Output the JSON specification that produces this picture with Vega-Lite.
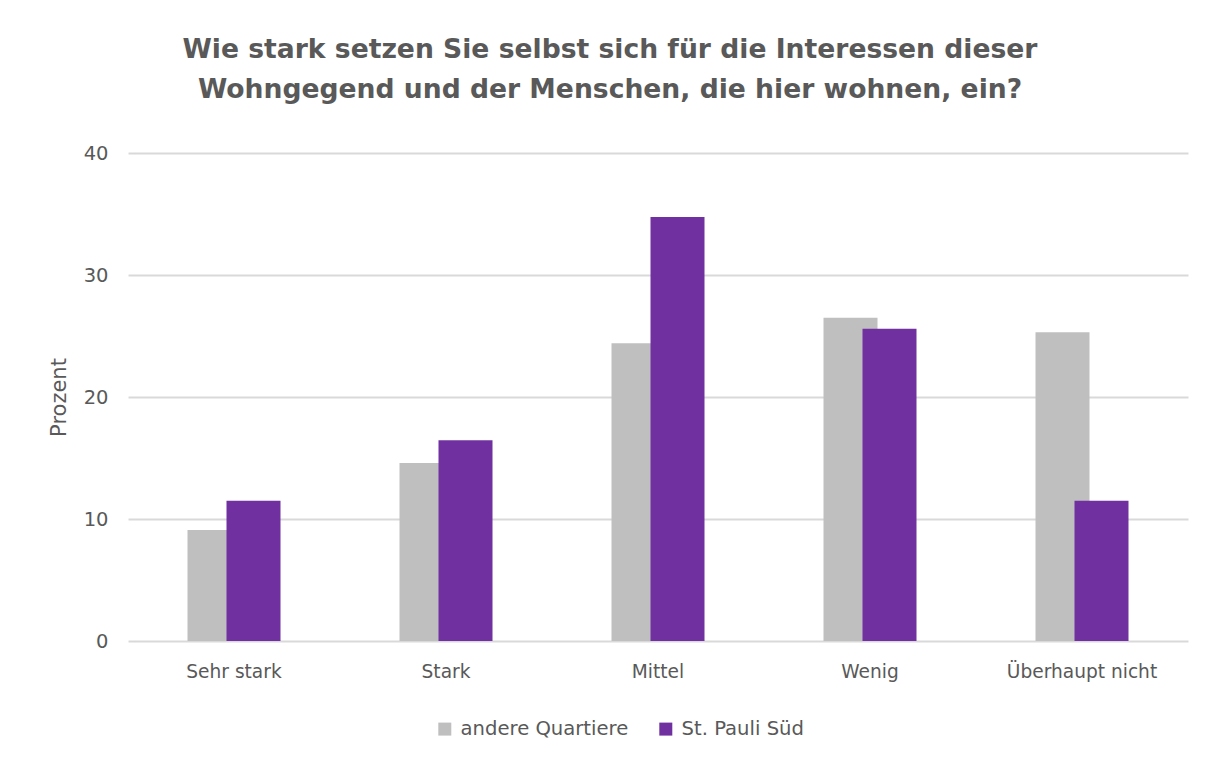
{
  "$schema": "https://vega.github.io/schema/vega-lite/v6.json",
  "width": 1060,
  "height": 488,
  "autosize": {"type": "none"},
  "padding": {"left": 128, "top": 153, "right": 27, "bottom": 117},
  "background": "#ffffff",
  "title": {
    "text": ["Wie stark setzen Sie selbst sich für die Interessen dieser", "Wohngegend und der Menschen, die hier wohnen, ein?"],
    "anchor": "middle",
    "dx": -48,
    "offset": 39,
    "font": "DejaVu Sans",
    "fontSize": 26.6,
    "fontWeight": "bold",
    "color": "#595959",
    "lineHeight": 40
  },
  "data": {
    "values": [
      {"kategorie": "Sehr stark", "gruppe": "andere Quartiere", "prozent": 9.1},
      {"kategorie": "Sehr stark", "gruppe": "St. Pauli Süd", "prozent": 11.5},
      {"kategorie": "Stark", "gruppe": "andere Quartiere", "prozent": 14.6},
      {"kategorie": "Stark", "gruppe": "St. Pauli Süd", "prozent": 16.45},
      {"kategorie": "Mittel", "gruppe": "andere Quartiere", "prozent": 24.4},
      {"kategorie": "Mittel", "gruppe": "St. Pauli Süd", "prozent": 34.75},
      {"kategorie": "Wenig", "gruppe": "andere Quartiere", "prozent": 26.5},
      {"kategorie": "Wenig", "gruppe": "St. Pauli Süd", "prozent": 25.6},
      {"kategorie": "Überhaupt nicht", "gruppe": "andere Quartiere", "prozent": 25.3},
      {"kategorie": "Überhaupt nicht", "gruppe": "St. Pauli Süd", "prozent": 11.5}
    ]
  },
  "encoding": {
    "x": {
      "field": "kategorie",
      "type": "nominal",
      "sort": ["Sehr stark", "Stark", "Mittel", "Wenig", "Überhaupt nicht"],
      "scale": {"paddingInner": 0, "paddingOuter": 0},
      "axis": {
        "title": null,
        "labelAngle": 0,
        "labelFont": "DejaVu Sans",
        "labelFontSize": 18.6,
        "labelColor": "#595959",
        "labelPadding": 21,
        "labelLimit": 300,
        "ticks": false,
        "domain": false,
        "grid": false
      }
    },
    "y": {
      "field": "prozent",
      "type": "quantitative",
      "scale": {"domain": [0, 40], "nice": false},
      "axis": {
        "title": "Prozent",
        "titleFont": "DejaVu Sans",
        "titleFontSize": 21,
        "titleFontWeight": "normal",
        "titleColor": "#595959",
        "titlePadding": 14,
        "values": [0, 10, 20, 30, 40],
        "labelFont": "DejaVu Sans",
        "labelFontSize": 19.5,
        "labelColor": "#595959",
        "labelPadding": 20,
        "ticks": false,
        "domain": false,
        "grid": true,
        "gridColor": "#d9d9d9",
        "gridWidth": 2
      }
    },
    "color": {
      "field": "gruppe",
      "type": "nominal",
      "scale": {"domain": ["andere Quartiere", "St. Pauli Süd"], "range": ["#bfbfbf", "#7030a0"]},
      "legend": {
        "title": null,
        "orient": "none",
        "direction": "horizontal",
        "legendX": 307,
        "legendY": 566,
        "symbolType": "square",
        "symbolSize": 169,
        "symbolStrokeWidth": 0,
        "labelFont": "DejaVu Sans",
        "labelFontSize": 19.6,
        "labelColor": "#595959",
        "labelOffset": 6,
        "labelLimit": 400,
        "columnPadding": 27
      }
    }
  },
  "layer": [
    {
      "transform": [{"filter": "datum.gruppe === 'andere Quartiere'"}],
      "mark": {"type": "bar", "width": 54, "xOffset": -19.5}
    },
    {
      "transform": [{"filter": "datum.gruppe === 'St. Pauli Süd'"}],
      "mark": {"type": "bar", "width": 54, "xOffset": 19.5}
    }
  ],
  "config": {"view": {"stroke": null}}
}
